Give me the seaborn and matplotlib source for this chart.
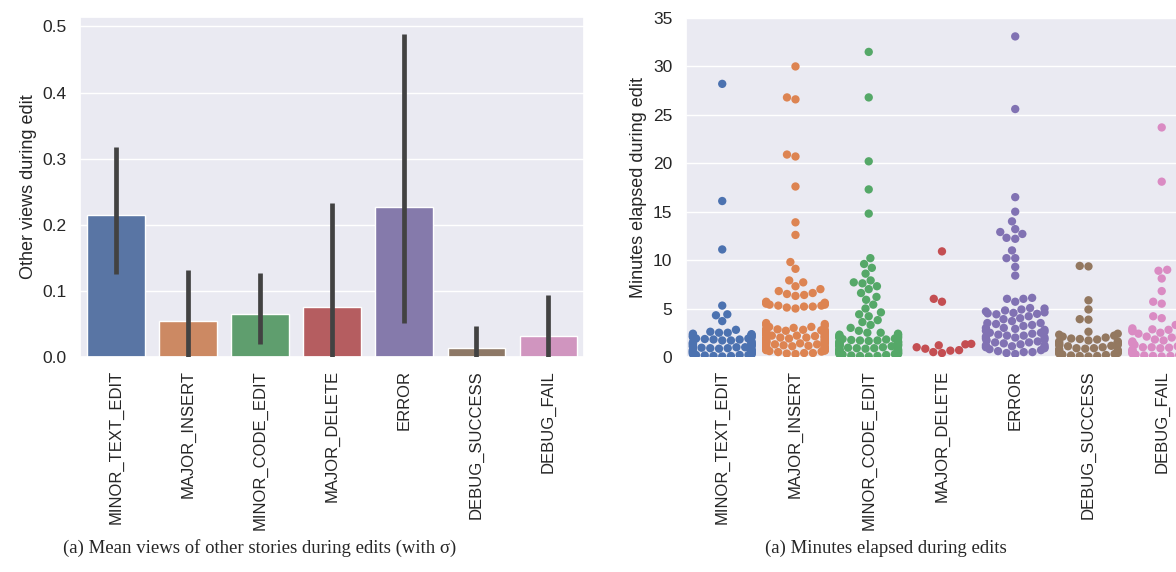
import numpy as np
import pandas as pd
import matplotlib
matplotlib.use('Agg')
import matplotlib.pyplot as plt
import seaborn as sns

# Edit kinds (x axis on both panels)
kinds = ['MINOR_TEXT_EDIT', 'MAJOR_INSERT', 'MINOR_CODE_EDIT', 'MAJOR_DELETE',
         'ERROR', 'DEBUG_SUCCESS', 'DEBUG_FAIL']

# Left panel: mean other views during edit, with error bar ends
mean_views = [0.214, 0.054, 0.065, 0.075, 0.227, 0.013, 0.032]
err_low = [0.126, 0.0, 0.020, 0.0, 0.051, 0.0, 0.0]
err_high = [0.317, 0.131, 0.127, 0.233, 0.489, 0.047, 0.094]

# Right panel: minutes elapsed during each edit
min_text_edit = [28.2, 16.1, 11.1, 5.3, 4.4, 4.3, 3.7, 2.8,
                 0.05, 0.1, 0.1, 0.15, 0.2, 0.2, 0.2, 0.25, 0.3, 0.3, 0.35, 0.4,
                 0.45, 0.5, 0.5, 0.5, 0.55, 0.6, 0.6, 0.65, 0.7, 0.7, 0.75, 0.8,
                 0.85, 0.9, 0.9, 0.95, 1.0, 1.0, 1.05, 1.1, 1.1, 1.15, 1.2, 1.25,
                 1.3, 1.3, 1.35, 1.4, 1.45, 1.5, 1.5, 1.6, 1.7, 1.7, 1.8, 1.8, 1.85,
                 1.9, 1.9, 2.0, 2.05, 2.1, 2.1, 2.2, 2.2, 2.3, 2.3, 2.35, 2.4, 2.5,
                 2.5, 2.6]
maj_insert = [30.0, 26.8, 26.6, 20.9, 20.7, 17.6, 13.9, 12.6, 9.8, 9.1, 7.9, 7.7,
              7.3, 7.0, 6.8, 6.6, 6.5, 6.4, 6.3, 5.7, 5.6, 5.6, 5.5, 5.5, 5.4, 5.4,
              5.3, 5.3, 5.2, 5.2, 5.1, 5.0,
              0.3, 0.35, 0.4, 0.4, 0.5, 0.55, 0.6, 0.65, 0.7, 0.7, 0.75, 0.8, 0.85,
              0.9, 0.9, 0.95, 1.0, 1.0, 1.0, 1.05, 1.1, 1.15, 1.2, 1.25, 1.3, 1.3,
              1.35, 1.4, 1.45, 1.5, 1.5, 1.5, 1.55, 1.6, 1.6, 1.65, 1.7, 1.75, 1.8,
              1.85, 1.9, 1.9, 1.95, 2.0, 2.0, 2.05, 2.1, 2.1, 2.15, 2.2, 2.2, 2.25,
              2.3, 2.35, 2.4, 2.45, 2.5, 2.5, 2.5, 2.55, 2.6, 2.7, 2.7, 2.75, 2.8,
              2.8, 2.85, 2.9, 3.0, 3.1, 3.1, 3.2, 3.3, 3.4, 3.5]
min_code_edit = [31.5, 26.8, 20.2, 17.3, 14.8, 10.2, 9.6, 9.2, 8.6, 7.9, 7.7, 7.6,
                 7.3, 7.0, 6.6, 6.2, 5.9, 5.4, 5.0, 4.6, 4.4, 4.2, 3.8, 3.6, 3.3,
                 3.0, 2.7,
                 0.05, 0.1, 0.1, 0.15, 0.2, 0.25, 0.3, 0.3, 0.3, 0.35, 0.4, 0.4,
                 0.45, 0.5, 0.5, 0.55, 0.6, 0.65, 0.7, 0.7, 0.75, 0.8, 0.8, 0.85,
                 0.9, 0.9, 0.95, 1.0, 1.05, 1.1, 1.1, 1.15, 1.2, 1.2, 1.25, 1.3,
                 1.3, 1.35, 1.4, 1.45, 1.5, 1.5, 1.55, 1.6, 1.6, 1.65, 1.7, 1.7,
                 1.75, 1.8, 1.85, 1.9, 1.9, 2.0, 2.0, 2.05, 2.1, 2.1, 2.2, 2.25,
                 2.3, 2.3, 2.4, 2.5, 2.5]
maj_delete = [10.9, 6.0, 5.7, 1.35, 1.3, 1.2, 1.0, 0.85, 0.7, 0.65, 0.5, 0.4]
error = [33.1, 25.6, 16.5, 15.0, 14.0, 13.2, 12.9, 12.7, 12.3, 12.2, 11.0, 10.2,
         10.2, 9.3, 8.4,
         6.1, 6.0, 6.0, 5.7, 5.05, 5.0, 4.9, 4.8, 4.7, 4.6, 4.55, 4.5, 4.45, 4.4,
         4.2, 4.0, 3.9, 3.7, 3.5, 3.5, 3.4, 3.3, 3.2, 3.0, 3.0, 2.9, 2.8, 2.7,
         2.6, 2.5, 2.5, 2.4, 2.3, 2.2, 2.2, 2.1, 2.0, 2.0, 1.9, 1.8, 1.7, 1.6,
         1.5, 1.5, 1.4, 1.3, 1.2, 1.2, 1.1, 1.0, 1.0, 0.9, 0.8, 0.7, 0.6, 0.5,
         0.5, 0.4, 0.3]
debug_success = [9.4, 9.35, 5.85, 4.9, 3.9, 3.85, 2.6, 2.4, 2.3, 2.2, 2.1, 2.0,
                 1.9, 1.85, 1.8, 1.7, 1.6, 1.6, 1.5, 1.45, 1.4, 1.3, 1.25, 1.2,
                 1.15, 1.1, 1.0, 0.9, 0.9, 0.85, 0.8, 0.7, 0.65, 0.6, 0.55, 0.5,
                 0.45, 0.4, 0.35, 0.3, 0.25, 0.2, 0.15, 0.1, 0.1, 0.05]
debug_fail = [23.7, 18.1, 9.0, 8.9, 8.1, 6.8, 5.7, 5.5, 4.2, 4.0, 3.3, 3.0, 2.95,
              2.9, 2.85, 2.8, 2.75, 2.7, 2.65, 2.6, 2.5, 2.4, 2.3, 2.1, 2.0, 1.8,
              1.7, 1.6, 1.5, 1.5, 1.45, 1.4, 1.3, 1.25, 1.2, 1.1, 1.0, 1.0, 0.95,
              0.9, 0.8, 0.75, 0.7, 0.65, 0.6, 0.6, 0.55, 0.5, 0.4, 0.4, 0.35, 0.3,
              0.25, 0.2, 0.2, 0.15, 0.1, 0.1, 0.05]
minutes = [min_text_edit, maj_insert, min_code_edit, maj_delete,
           error, debug_success, debug_fail]

sns.set_theme(style='darkgrid')
plt.rcParams['font.family'] = ['Liberation Sans', 'DejaVu Sans']

fig = plt.figure(figsize=(11.76, 5.72), dpi=100)
ax1 = fig.add_axes([0.068, 0.376, 0.429, 0.594])
ax2 = fig.add_axes([0.583, 0.376, 0.436, 0.5925])

# Left: bar chart with error bars
views = pd.DataFrame({'kind': kinds, 'views': mean_views})
sns.barplot(data=views, x='kind', y='views', hue='kind', palette='deep',
            legend=False, errorbar=None, ax=ax1)
pos = np.arange(len(kinds))
ax1.vlines(pos, err_low, err_high, color='#424242', lw=3.4, zorder=3)
ax1.set_xlim(-0.5, 6.5)
ax1.set_ylim(0, 0.514)
ax1.set_xlabel('')
ax1.set_ylabel('Other views during edit', fontsize=13)

# Right: swarm of minutes elapsed
rows = [(k, v) for k, vals in zip(kinds, minutes) for v in vals]
elapsed = pd.DataFrame(rows, columns=['kind', 'minutes'])
sns.swarmplot(data=elapsed, x='kind', y='minutes', hue='kind', palette='deep',
              legend=False, size=6, ax=ax2)
ax2.set_xlim(-0.5, 6.5)
ax2.set_ylim(0, 35)
ax2.set_xlabel('')
ax2.set_ylabel('Minutes elapsed during edit', fontsize=13)

for ax in (ax1, ax2):
    ax.tick_params(axis='x', labelrotation=90, labelsize=12)
    ax.tick_params(axis='y', labelsize=12.5)

fig.text(0.221, 0.042, '(a) Mean views of other stories during edits (with σ)',
         ha='center', va='center', fontsize=13.5, family='Liberation Serif')
fig.text(0.753, 0.042, '(a) Minutes elapsed during edits',
         ha='center', va='center', fontsize=13.5, family='Liberation Serif')

fig.savefig('out.png', dpi=100)
